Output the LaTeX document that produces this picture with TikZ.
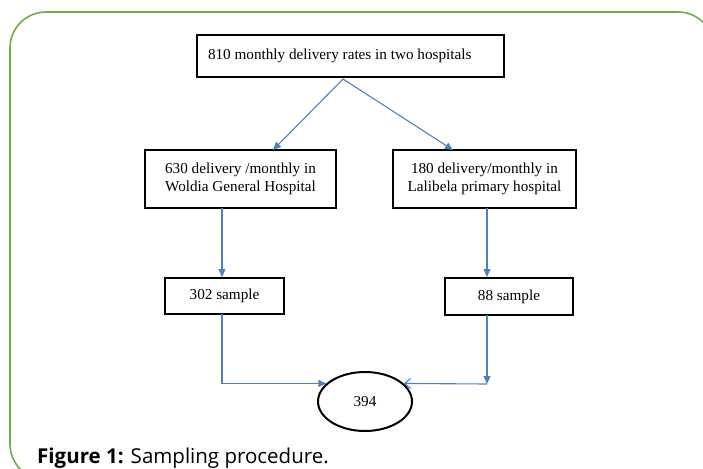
\documentclass[tikz,border=0pt]{standalone}
\usepackage{fontspec}
\setmainfont{Liberation Serif}
\newfontfamily\capfont{Open Sans}
\usetikzlibrary{arrows.meta,shapes.geometric,calc}
\definecolor{framegreen}{RGB}{112,173,71}
\definecolor{linkblue}{RGB}{79,129,189}
\tikzset{
  boxnode/.style={draw=black,line width=2pt,align=center,inner sep=0pt,
    font=\fontsize{15.2}{18.5}\selectfont},
  link/.style={draw=linkblue,line width=1.1pt,
    -{Triangle[length=8pt,width=7pt]}},
  openlink/.style={draw=linkblue,line width=1.1pt,
    -{Straight Barb[length=6pt,width=10pt]}},
}
\begin{document}
\begin{tikzpicture}[x=1pt,y=-1pt]
\useasboundingbox (0,0) rectangle (703,468);
\begin{scope}
\clip (0,0) rectangle (703,468);
\draw[framegreen,line width=1.6pt,rounded corners=36pt] (10,12) rectangle (714,480);
\end{scope}
% nodes
\node[boxnode,minimum width=307pt,minimum height=42pt] (top) at (350.5,56) {\makebox[285pt][l]{810 monthly delivery rates in two hospitals}};
\node[boxnode,minimum width=191pt,minimum height=58pt] (left) at (240.5,179) {630 delivery /monthly in\\Woldia General Hospital};
\node[boxnode,minimum width=183pt,minimum height=58pt] (right) at (484.5,179) {180 delivery/monthly in\\Lalibela primary hospital};
\node[boxnode,minimum width=119pt,minimum height=36pt] (s1) at (224.5,296) {302 sample};
\node[boxnode,minimum width=128pt,minimum height=37pt] (s2) at (509,296.5) {88 sample};
\node[draw=black,line width=2pt,ellipse,minimum width=94pt,minimum height=59pt,inner sep=0pt,
  font=\fontsize{15.2}{18.5}\selectfont] (e) at (365,401.5) {394};
% connector points
\coordinate (apex) at ($(top.south)+(-7.5,1)$);
\coordinate (lt) at (273,150);
\coordinate (rt) at (453,150);
\coordinate (l1) at (222,208);
\coordinate (r1) at (487,208);
\coordinate (l2) at (222,314);
\coordinate (r2) at (487,315);
\coordinate (rc) at (487,384);
% connectors
\draw[link] (apex) -- (lt);
\draw[link] (apex) -- (rt);
\draw[link] (l1) -- (l1 |- s1.north);
\draw[link] (r1) -- (r1 |- s2.north);
\draw[link] (l2) |- (e.155);
\draw[link] (r2) -- (rc);
\draw[openlink] (rc) -- (e.25);
% caption
\node[anchor=base west,inner sep=0pt,font=\capfont\fontsize{20.5}{24}\selectfont] (cap) at (37,463)
  {\textbf{Figure 1:} Sampling procedure.};
\end{tikzpicture}
\end{document}
